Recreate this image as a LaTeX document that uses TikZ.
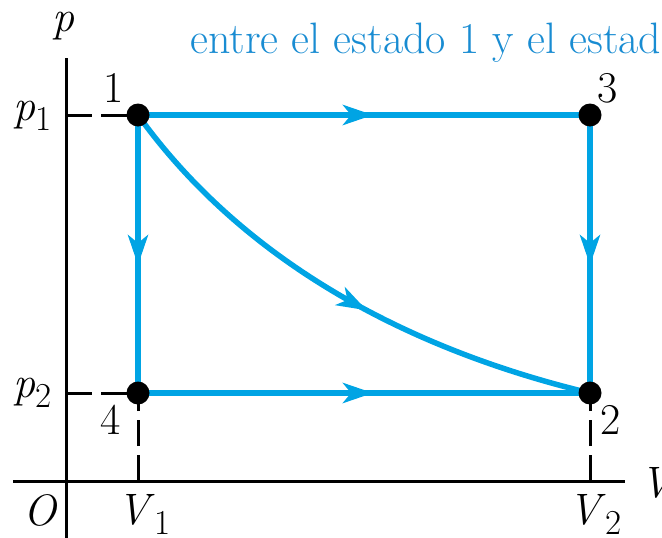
\documentclass[tikz,border=0pt]{standalone}
\usetikzlibrary{arrows.meta,decorations.markings}
\definecolor{lineblue}{RGB}{0,164,228}
\definecolor{textblue}{RGB}{25,140,210}
\newcommand{\lowsub}[1]{\raisebox{-10pt}{\fontsize{35}{35}\selectfont #1}}
\begin{document}
\begin{tikzpicture}[x=1pt,y=-1pt,
  lbl/.style={anchor=base west,inner sep=0pt,font=\fontsize{44}{48}\selectfont},
  axisline/.style={line width=3pt,black},
  dashline/.style={line width=3pt,black,dash pattern=on 26pt off 9pt},
  blueline/.style={line width=5.5pt,lineblue},
  midarrow/.style={postaction={decorate},decoration={markings,
     mark=at position #1 with {\arrow{Stealth[length=30pt,width=20pt,inset=8pt]}}}},
  dot/.style={circle,fill=black,inner sep=0pt,minimum size=23pt}]
\useasboundingbox (0,0) rectangle (662,538);
% coordinates
\coordinate (O) at (66,481);
\coordinate (ytop) at (66,58);
\coordinate (ybot) at (66,538);
\coordinate (xleft) at (13,481);
\coordinate (xend) at (625,481);
\coordinate (c1) at (138,115);
\coordinate (c3) at (590,115);
\coordinate (c4) at (138,393);
\coordinate (c2) at (590,393);
% axes
\draw[axisline] (ytop) -- (ybot);
\draw[axisline] (xleft) -- (xend);
% dashed guides
\draw[dashline] (c1 -| O) -- (c1);
\draw[dashline] (c4 -| O) -- (c4);
\draw[dashline] (c4 |- O) -- (c4);
\draw[dashline] (c2 |- O) -- (c2);
% process lines
\draw[blueline,midarrow=0.52] (c1) -- (c3);
\draw[blueline,midarrow=0.52] (c4) -- (c2);
\draw[blueline,midarrow=0.54] (c1) -- (c4);
\draw[blueline,midarrow=0.54] (c3) -- (c2);
\draw[blueline,midarrow=0.56] (c1) .. controls (235,250) and (390,345) .. (c2);
% dots
\node[dot] (d1) at (c1) {};
\node[dot] (d3) at (c3) {};
\node[dot] (d4) at (c4) {};
\node[dot] (d2) at (c2) {};
% labels
\node[lbl] (lp) at (52,31) {\textit{p}};
\node[lbl] (lp1) at (13,120) {\textit{p}\lowsub{1}};
\node[lbl] (lp2) at (13,397) {\textit{p}\lowsub{2}};
\node[lbl] (lO) at (23,525) {\textit{O}};
\node[lbl] (lV1) at (117,524) {\textit{V}\lowsub{1}};
\node[lbl] (lV2) at (568,524) {\textit{V}\lowsub{2}};
\node[lbl] (lV) at (640,497) {\textit{V}};
\node[lbl] (l1) at (103,102) {1};
\node[lbl] (l3) at (597,102) {3};
\node[lbl] (l4) at (100,434) {4};
\node[lbl] (l2) at (600,434) {2};
\node[lbl,text=textblue,font=\fontsize{44}{48}\selectfont] (title) at (190,53) {entre el estado 1 y el estad};
\end{tikzpicture}
\end{document}
